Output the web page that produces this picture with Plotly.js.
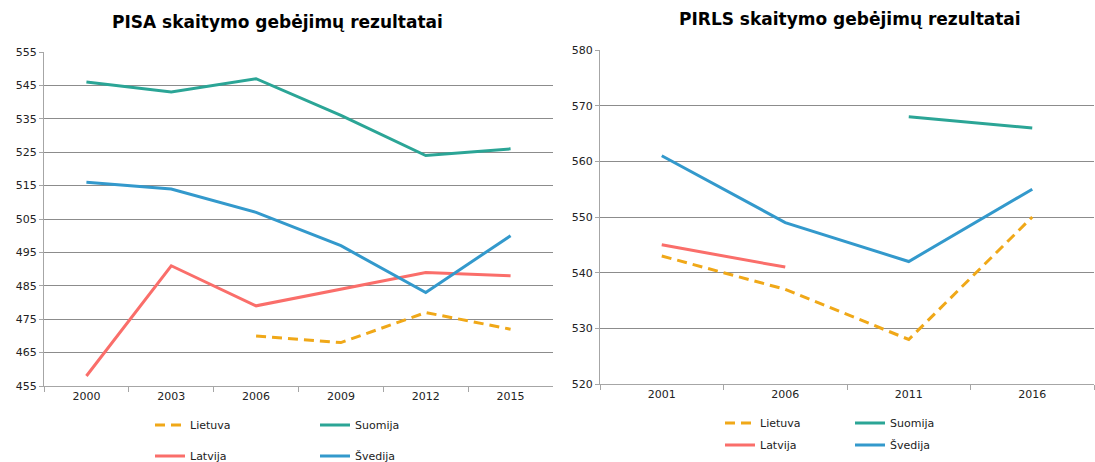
<!DOCTYPE html>
<html><head><meta charset="utf-8">
<script src="https://cdn.plot.ly/plotly-3.0.1.min.js"></script>
<style>html,body{margin:0;padding:0;background:#fff}#chart{width:1095px;height:462px}</style>
</head><body><div id="chart"></div>
<script>
// PISA data
const pisaYears = ['2000','2003','2006','2009','2012','2015'];
const pisaLietuva = [null, null, 470, 468, 477, 472];
const pisaSuomija = [546, 543, 547, 536, 524, 526];
const pisaLatvija = [458, 491, 479, 484, 489, 488];
const pisaSvedija = [516, 514, 507, 497, 483, 500];
const pisaTicks = [455, 465, 475, 485, 495, 505, 515, 525, 535, 545, 555];

// PIRLS data
const pirlsYears = ['2001','2006','2011','2016'];
const pirlsLietuva = [543, 537, 528, 550];
const pirlsSuomija = [null, null, 568, 566];
const pirlsLatvija = [545, 541, null, null];
const pirlsSvedija = [561, 549, 542, 555];
const pirlsTicks = [520, 530, 540, 550, 560, 570, 580];

const names = ['Lietuva', 'Suomija', 'Latvija', 'Švedija'];
const colors = ['#F0A818', '#2BA596', '#FA6E6A', '#3399CC'];
const W = 1095, H = 462;
const FONT = 'DejaVu Sans, Verdana, sans-serif';

function mk(x, y, i, xa, ya, leg) {
  return {
    x: x, y: y, type: 'scatter', mode: 'lines', name: names[i],
    xaxis: xa, yaxis: ya, legend: leg, connectgaps: false,
    line: {color: colors[i], width: 3, dash: i === 0 ? '10px,6px' : 'solid'},
    hoverinfo: 'x+y+name'
  };
}

const data = [
  mk(pisaYears, pisaLietuva, 0, 'x', 'y', 'legend'),
  mk(pisaYears, pisaSuomija, 1, 'x', 'y', 'legend2'),
  mk(pisaYears, pisaLatvija, 2, 'x', 'y', 'legend3'),
  mk(pisaYears, pisaSvedija, 3, 'x', 'y', 'legend4'),
  mk(pirlsYears, pirlsLietuva, 0, 'x2', 'y2', 'legend5'),
  mk(pirlsYears, pirlsSuomija, 1, 'x2', 'y2', 'legend6'),
  mk(pirlsYears, pirlsLatvija, 2, 'x2', 'y2', 'legend7'),
  mk(pirlsYears, pirlsSvedija, 3, 'x2', 'y2', 'legend8')
];

function xax(d, cats) {
  return {
    type: 'category', domain: d, range: [-0.5, cats.length - 0.5],
    tickson: 'boundaries', ticks: 'outside', ticklen: 5,
    tickcolor: '#a6a6a6', showline: true, linecolor: '#a6a6a6', linewidth: 1,
    showgrid: false, zeroline: false, fixedrange: true, tickangle: 0, automargin: false,
    tickfont: {family: FONT, size: 11, color: '#222'}
  };
}
function yax(d, ticks, anchor) {
  return {
    domain: d, range: [ticks[0], ticks[ticks.length - 1]], tickvals: ticks,
    ticks: 'outside', ticklen: 4, tickcolor: '#a6a6a6', showline: true,
    linecolor: '#a6a6a6', linewidth: 1, showgrid: true, gridcolor: '#8c8c8c',
    gridwidth: 1, zeroline: false, anchor: anchor, fixedrange: true, automargin: false,
    tickfont: {family: FONT, size: 11, color: '#222'}
  };
}

function leg(xpx, ypx) {
  return {
    xref: 'paper', yref: 'paper', x: xpx / W, y: 1 - ypx / H,
    xanchor: 'left', yanchor: 'middle', bgcolor: 'rgba(0,0,0,0)',
    font: {family: FONT, size: 11, color: '#222'}, itemclick: false, itemdoubleclick: false
  };
}

const layout = {
  width: W, height: H, margin: {l: 0, r: 0, t: 0, b: 0, autoexpand: false},
  paper_bgcolor: '#fff', plot_bgcolor: '#fff', showlegend: true,
  xaxis: Object.assign(xax([44 / W, 553 / W], pisaYears), {anchor: 'y'}),
  yaxis: yax([1 - 386 / H, 1 - 52 / H], pisaTicks, 'x'),
  xaxis2: Object.assign(xax([600 / W, 1094 / W], pirlsYears), {anchor: 'y2'}),
  yaxis2: yax([1 - 384 / H, 1 - 50 / H], pirlsTicks, 'x2'),
  legend: leg(150, 425), legend2: leg(315, 425),
  legend3: leg(150, 456), legend4: leg(315, 456),
  legend5: leg(720, 423), legend6: leg(850, 423),
  legend7: leg(720, 445), legend8: leg(850, 445),
  annotations: [
    {text: '<b>PISA skaitymo gebėjimų rezultatai</b>', xref: 'paper', yref: 'paper',
     x: 277 / W, y: 1 - 22 / H, xanchor: 'center', yanchor: 'middle', showarrow: false,
     font: {family: FONT, size: 17, color: '#000'}},
    {text: '<b>PIRLS skaitymo gebėjimų rezultatai</b>', xref: 'paper', yref: 'paper',
     x: 850 / W, y: 1 - 19 / H, xanchor: 'center', yanchor: 'middle', showarrow: false,
     font: {family: FONT, size: 17, color: '#000'}}
  ]
};

Plotly.newPlot('chart', data, layout, {displayModeBar: false, staticPlot: true});
</script></body></html>
